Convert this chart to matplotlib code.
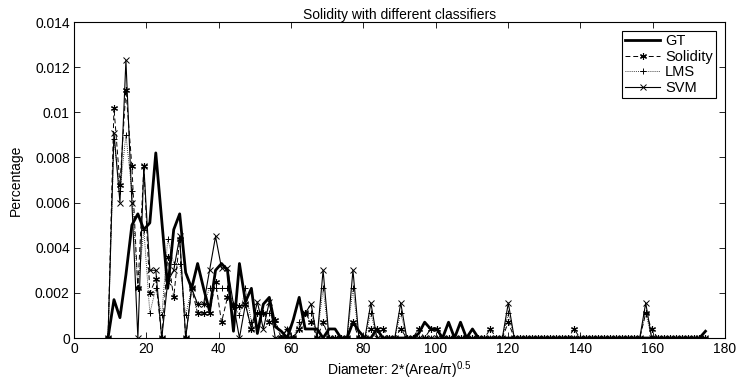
import matplotlib
matplotlib.use("Agg")
import matplotlib.pyplot as plt
import numpy as np

plt.rcParams["font.family"] = ["Liberation Sans", "DejaVu Sans"]
plt.rcParams["mathtext.fontset"] = "custom"
plt.rcParams["mathtext.rm"] = "Liberation Sans"
plt.rcParams["mathtext.it"] = "Liberation Sans:italic"

# histogram bin centres (101 bins from ~9.4 to ~174.6)
diameter = np.linspace(9.4, 174.6, 101)

# percentages (units of 1e-3)
gt = [
    0, 1.7, 0.9, 2.8, 5.0, 5.5, 4.8, 5.1, 8.2, 5.2,
    2.2, 4.8, 5.5, 2.9, 2.2, 3.3, 2.2, 1.2, 3.0, 3.3,
    3.0, 0.3, 3.3, 1.6, 2.2, 0.2, 1.5, 1.8, 0.5, 0.3,
    0, 0.8, 1.8, 0.4, 0.4, 0.4, 0, 0.4, 0.4, 0,
    0, 0.7, 0.3, 0, 0, 0.4, 0, 0, 0, 0,
    0, 0, 0.2, 0.7, 0.4, 0.4, 0, 0.7, 0, 0.7,
    0, 0.4, 0, 0, 0, 0, 0, 0, 0, 0,
    0, 0, 0, 0, 0, 0, 0, 0, 0, 0,
    0, 0, 0, 0, 0, 0, 0, 0, 0, 0,
    0, 0, 0, 0, 0, 0, 0, 0, 0, 0,
    0.3,
]
solidity = [
    0, 10.2, 6.8, 11.0, 7.6, 2.2, 7.6, 2.0, 2.6, 0,
    3.6, 1.8, 4.4, 0, 2.2, 1.1, 1.1, 1.1, 2.5, 0.7,
    1.8, 1.4, 1.4, 1.5, 0.4, 1.1, 1.1, 0.7, 0.8, 0,
    0, 0, 0.4, 1.1, 0.7, 0, 0.7, 0, 0, 0,
    0, 0.7, 0, 0, 0.4, 0.4, 0.4, 0, 0, 0.4,
    0, 0, 0.4, 0, 0.4, 0.4, 0, 0, 0, 0,
    0, 0, 0, 0, 0.4, 0, 0, 0.7, 0, 0,
    0, 0, 0, 0, 0, 0, 0, 0, 0.4, 0,
    0, 0, 0, 0, 0, 0, 0, 0, 0, 0,
    1.1, 0.4, 0, 0, 0, 0, 0, 0, 0, 0,
    0,
]
lms = [
    0, 8.8, 6.5, 9.0, 6.5, 2.2, 4.8, 1.1, 2.2, 1.0,
    4.4, 3.3, 3.3, 1.0, 2.2, 1.5, 1.5, 2.2, 2.2, 2.2,
    2.2, 1.5, 1.0, 2.2, 0.7, 1.1, 1.1, 1.1, 0.7, 0,
    0.4, 0, 0.7, 1.1, 1.1, 0, 2.2, 0, 0, 0,
    0, 2.2, 0, 0, 1.1, 0, 0, 0, 0, 1.1,
    0, 0, 0, 0, 0, 0, 0, 0, 0, 0,
    0, 0, 0, 0, 0, 0, 0, 1.1, 0, 0,
    0, 0, 0, 0, 0, 0, 0, 0, 0, 0,
    0, 0, 0, 0, 0, 0, 0, 0, 0, 0,
    1.1, 0, 0, 0, 0, 0, 0, 0, 0, 0,
    0,
]
svm = [
    0, 9.1, 6.0, 12.3, 6.0, 0, 7.6, 3.0, 3.0, 0,
    2.5, 3.0, 4.5, 0, 2.2, 1.5, 1.5, 3.0, 4.5, 3.1,
    3.1, 1.5, 0, 1.5, 0.4, 1.6, 0.4, 1.6, 0, 0,
    0.4, 0, 0.4, 1.1, 1.5, 0, 3.0, 0, 0, 0,
    0, 3.0, 0, 0, 1.55, 0, 0, 0, 0, 1.55,
    0, 0, 0, 0, 0, 0, 0, 0, 0, 0,
    0, 0, 0, 0, 0, 0, 0, 1.55, 0, 0,
    0, 0, 0, 0, 0, 0, 0, 0, 0, 0,
    0, 0, 0, 0, 0, 0, 0, 0, 0, 0,
    1.55, 0, 0, 0, 0, 0, 0, 0, 0, 0,
    0,
]

x_ticks = [0, 20, 40, 60, 80, 100, 120, 140, 160, 180]
y_ticks = [0, 0.002, 0.004, 0.006, 0.008, 0.010, 0.012, 0.014]
y_tick_labels = ["0", "0.002", "0.004", "0.006", "0.008", "0.01", "0.012", "0.014"]


def main():
    scale = 1e-3
    fs = 10
    fig = plt.figure(figsize=(7.39, 3.86), dpi=100)
    ax = fig.add_axes([74 / 739, 48 / 386, 651 / 739, 316 / 386])

    ax.plot(diameter, np.array(gt) * scale, color="black", lw=2.0, label="GT")
    ax.plot(diameter, np.array(solidity) * scale, color="black", lw=0.7,
            ls=(0, (5, 3)), marker=(6, 2, 0), ms=5, mew=0.8, label="Solidity")
    ax.plot(diameter, np.array(lms) * scale, color="black", lw=0.6,
            ls=(0, (1, 1.5)), marker="+", ms=5, mew=0.7, label="LMS")
    ax.plot(diameter, np.array(svm) * scale, color="black", lw=0.8,
            marker="x", ms=4, mew=0.7, label="SVM")

    ax.set_xlim(0, 180)
    ax.set_ylim(0, 0.014)
    ax.set_xticks(x_ticks)
    ax.set_yticks(y_ticks)
    ax.set_yticklabels(y_tick_labels)
    ax.tick_params(direction="in", top=True, right=True, labelsize=fs,
                   length=4, width=0.6, pad=3)
    for s in ax.spines.values():
        s.set_linewidth(0.8)

    ax.set_title("Solidity with different classifiers", fontsize=fs, pad=2)
    ax.set_xlabel(r"Diameter: 2*(Area/π)$^{\mathrm{0.5}}$", fontsize=fs, labelpad=2)
    ax.set_ylabel("Percentage", fontsize=fs, labelpad=9)

    leg = ax.legend(loc="upper right", fontsize=fs + 0.5, fancybox=False,
                    edgecolor="black", framealpha=1, handlelength=2.4,
                    handletextpad=0.3, borderpad=0.25, labelspacing=0.1,
                    borderaxespad=0.6)
    leg.get_frame().set_linewidth(0.8)

    fig.savefig("out.png", dpi=100)


if __name__ == "__main__":
    main()
